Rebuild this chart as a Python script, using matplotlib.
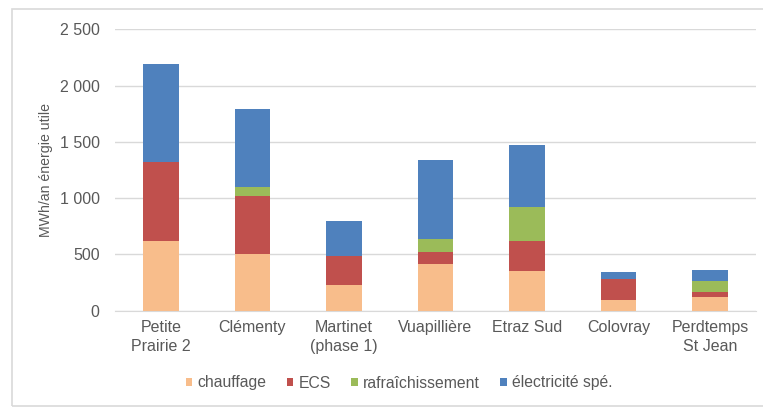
import matplotlib
matplotlib.use("Agg")
import matplotlib.pyplot as plt
from matplotlib.patches import Rectangle
import numpy as np

plt.rcParams['font.family'] = ['Liberation Sans', 'DejaVu Sans']

categories = ["Petite\nPrairie 2", "Clémenty", "Martinet\n(phase 1)", "Vuapillière",
              "Etraz Sud", "Colovray", "Perdtemps\nSt Jean"]
chauffage = [620, 505, 230, 415, 350, 95, 125]
ecs = [700, 515, 255, 105, 265, 185, 40]
rafraichissement = [0, 75, 0, 115, 310, 0, 100]
electricite = [870, 700, 315, 705, 545, 65, 95]

series = [
    ("chauffage", chauffage, "#F8BD8B"),
    ("ECS", ecs, "#C0504D"),
    ("rafraîchissement", rafraichissement, "#9BBB59"),
    ("électricité spé.", electricite, "#4F81BD"),
]
yticks = [0, 500, 1000, 1500, 2000, 2500]
ytick_labels = ["0", "500", "1 000", "1 500", "2 000", "2 500"]

W, H = 763, 408
fig = plt.figure(figsize=(W / 100, H / 100), dpi=100)
ax = fig.add_axes([115 / W, 1 - 310.7 / H, (756 - 115) / W, (310.7 - 29.3) / H])

x = np.arange(len(categories))
bottom = np.zeros(len(categories))
for name, vals, color in series:
    ax.bar(x, vals, bottom=bottom, width=0.39, color=color, label=name, zorder=3)
    bottom += np.array(vals)

ax.set_xlim(-0.5, len(categories) - 0.5)
ax.set_ylim(0, 2500)
ax.set_yticks(yticks)
ax.set_yticklabels(ytick_labels)
ax.set_xticks(x)
ax.set_xticklabels(categories, linespacing=1.3)
ax.grid(axis="y", color="#D9D9D9", linewidth=1.0, zorder=0)
for s in ["top", "right", "left"]:
    ax.spines[s].set_visible(False)
ax.spines["bottom"].set_color("#D9D9D9")
ax.tick_params(axis="both", length=0, colors="#595959", labelsize=11.5)
ax.tick_params(axis="y", pad=11)
ax.tick_params(axis="x", pad=7)
ax.set_ylabel("MWh/an énergie utile", color="#595959", fontsize=10.2, labelpad=5)

leg = fig.legend(loc="center", bbox_to_anchor=(399 / W, 1 - 383 / H), ncol=4,
                 frameon=False, fontsize=11.3, handlelength=0.42, handleheight=0.42,
                 handletextpad=0.32, columnspacing=1.3)
for t in leg.get_texts():
    t.set_color("#595959")

# outer chart frame
fig.patches.append(Rectangle((12 / W, 1 - 406 / H), 1.0, (406 - 9) / H,
                             transform=fig.transFigure, fill=False,
                             edgecolor="#D9D9D9", linewidth=1.2))

fig.savefig("out.png", dpi=100)
